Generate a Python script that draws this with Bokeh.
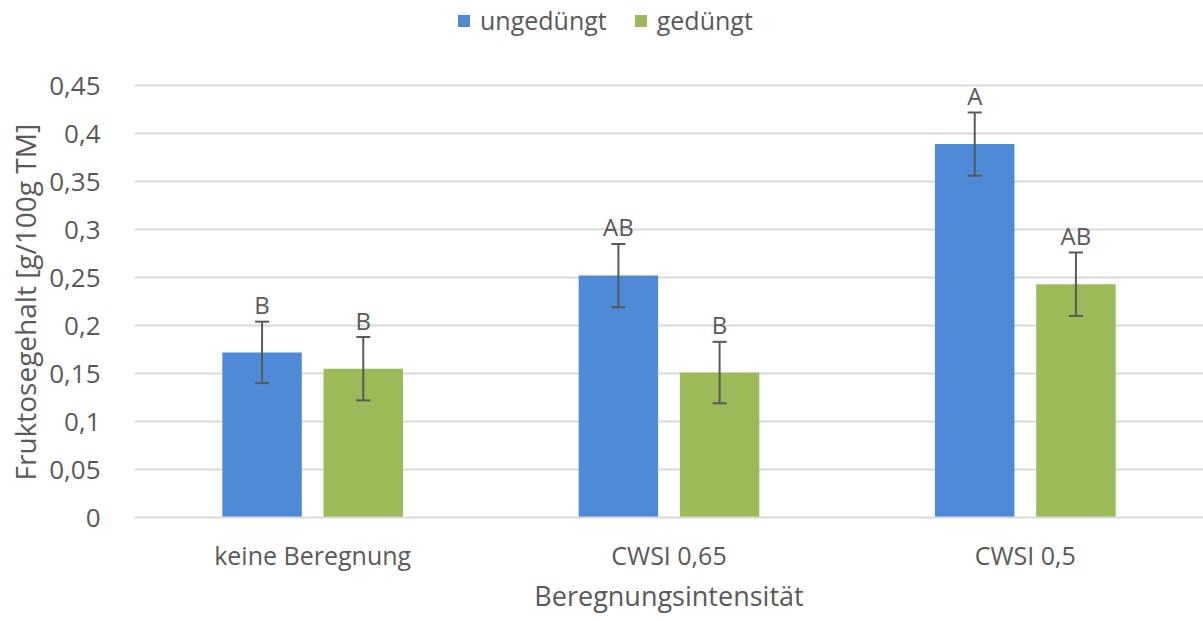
from bokeh.plotting import figure
from bokeh.models import (ColumnDataSource, FactorRange, Range1d, Whisker, TeeHead,
                          Legend, LegendItem, FixedTicker, CustomJSTickFormatter, Title)
from bokeh.transform import dodge
from bokeh.core.properties import value
from bokeh.embed import file_html
from bokeh.resources import INLINE

# ---- data ----
categories = ["keine Beregnung", "CWSI 0,65", "CWSI 0,5"]
ungeduengt = [0.172, 0.252, 0.389]
geduengt = [0.155, 0.151, 0.243]
err_ungeduengt = [0.032, 0.033, 0.033]
err_geduengt = [0.033, 0.032, 0.033]
sig_ungeduengt = ["B", "AB", "A"]
sig_geduengt = ["B", "B", "AB"]
y_ticks = [0, 0.05, 0.1, 0.15, 0.2, 0.25, 0.3, 0.35, 0.4, 0.45]
x_title = "Beregnungsintensität"
y_title = "Fruktosegehalt [g/100g TM]"

FONT = "Open Sans"
TXT = "#595959"
BLUE = "#4f8ad6"
GREEN = "#9bbb59"
GRID = "#d9d9d9"

W, H = 1203, 621
LEFT, BOTTOM = 130, 104
frame_h = H - BOTTOM
plot_h = 432                      # pixel height of the 0..0.45 value span
y_max = max(y_ticks) * frame_h / plot_h   # headroom above 0.45 holds the legend

src_u = ColumnDataSource(dict(
    cat=categories, val=ungeduengt,
    upper=[v + e for v, e in zip(ungeduengt, err_ungeduengt)],
    lower=[v - e for v, e in zip(ungeduengt, err_ungeduengt)],
    sig=sig_ungeduengt))
src_g = ColumnDataSource(dict(
    cat=categories, val=geduengt,
    upper=[v + e for v, e in zip(geduengt, err_geduengt)],
    lower=[v - e for v, e in zip(geduengt, err_geduengt)],
    sig=sig_geduengt))

p = figure(width=W, height=H, x_range=FactorRange(factors=categories, range_padding=0),
           y_range=Range1d(0, y_max), output_backend="svg", toolbar_location=None,
           min_border_left=LEFT, min_border_right=0, min_border_top=0, min_border_bottom=BOTTOM)
p.outline_line_color = None
p.background_fill_color = "white"
p.border_fill_color = "white"

off = 0.142
bw = 0.223
r_u = p.vbar(x=dodge("cat", -off, range=p.x_range), top="val", width=bw, source=src_u,
             fill_color=BLUE, line_color=None)
r_g = p.vbar(x=dodge("cat", off, range=p.x_range), top="val", width=bw, source=src_g,
             fill_color=GREEN, line_color=None)

for src, o in ((src_u, -off), (src_g, off)):
    w = Whisker(base=dodge("cat", o, range=p.x_range), upper="upper", lower="lower", source=src,
                line_color=TXT, line_width=2, level="overlay",
                upper_head=TeeHead(size=14, line_color=TXT, line_width=2),
                lower_head=TeeHead(size=14, line_color=TXT, line_width=2))
    p.add_layout(w)
    p.text(x=dodge("cat", o, range=p.x_range), y="upper", text="sig", source=src,
           text_align="center", text_baseline="alphabetic", y_offset=-17,
           text_font=value(FONT), text_font_size="24px", text_color=TXT)

# axes
p.yaxis.ticker = FixedTicker(ticks=y_ticks)
p.yaxis.formatter = CustomJSTickFormatter(code="""
let s = tick.toFixed(2).replace(/0+$/, '').replace(/\\.$/, '');
return s.replace('.', ',');
""")
p.yaxis.axis_line_color = None
p.yaxis.major_tick_line_color = None
p.yaxis.minor_tick_line_color = None
p.yaxis.major_label_standoff = 28
p.yaxis.major_label_text_font = FONT
p.yaxis.major_label_text_font_size = "26px"
p.yaxis.major_label_text_color = TXT

p.xaxis.axis_line_color = GRID
p.xaxis.axis_line_width = 2
p.xaxis.major_tick_line_color = None
p.xaxis.minor_tick_line_color = None
p.xaxis.major_label_standoff = 14
p.xaxis.major_label_text_font = FONT
p.xaxis.major_label_text_font_size = "25px"
p.xaxis.major_label_text_color = TXT
p.xaxis.axis_label = x_title
p.xaxis.axis_label_text_font = FONT
p.xaxis.axis_label_text_font_size = "27px"
p.xaxis.axis_label_text_font_style = "normal"
p.xaxis.axis_label_text_color = TXT
p.xaxis.axis_label_standoff = 2

p.xgrid.grid_line_color = None
p.ygrid.grid_line_color = GRID
p.ygrid.grid_line_width = 2

# y-axis title (placed along the 0..0.45 span)
p.add_layout(Title(text=y_title, align="left", offset=37, text_font=FONT,
                   text_font_size="28px", text_font_style="normal", text_color=TXT,
                   standoff=6), "left")

legend = Legend(items=[LegendItem(label="ungedüngt", renderers=[r_u]),
                       LegendItem(label="gedüngt", renderers=[r_g])],
                location=(322, frame_h - 37), orientation="horizontal",
                glyph_width=15, glyph_height=15, label_height=34,
                label_standoff=9, spacing=26, padding=0, margin=0,
                label_text_font=FONT, label_text_font_size="25px", label_text_color=TXT,
                border_line_color=None, background_fill_alpha=0)
p.add_layout(legend, "center")

open("out.html", "w").write(file_html(p, INLINE))
